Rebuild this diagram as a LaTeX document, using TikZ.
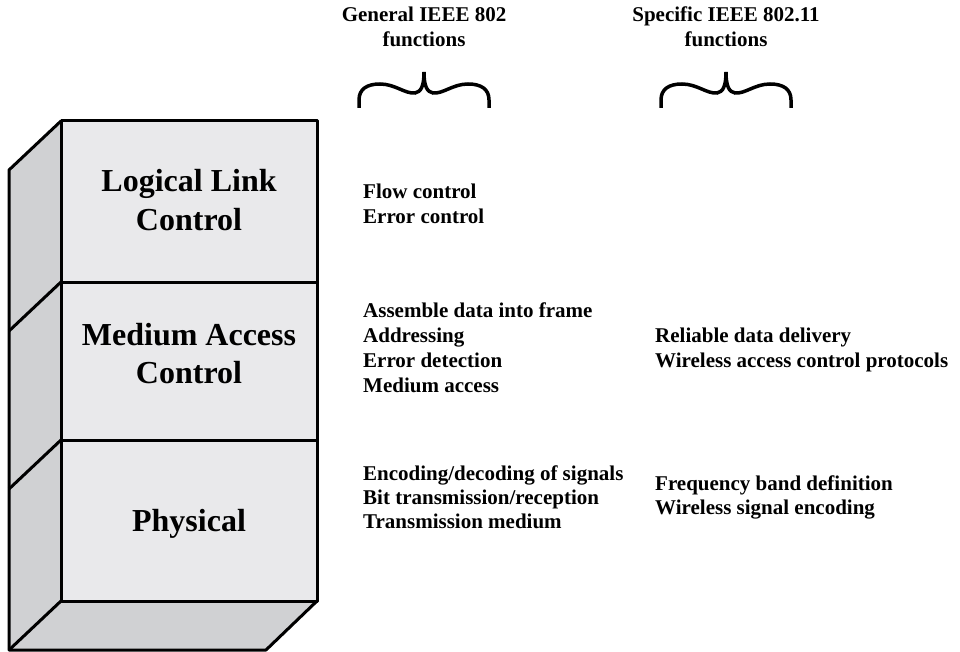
\documentclass[tikz,border=0pt]{standalone}
\usepackage{fontspec}
\setmainfont{Liberation Serif}
\definecolor{frontgray}{HTML}{E9E9EB}
\definecolor{sidegray}{HTML}{D0D1D3}
\begin{document}
\begin{tikzpicture}[x=1pt,y=-1pt,
  edge/.style={line width=3pt,line join=round},
  title/.style={anchor=base,inner sep=0pt,font=\fontsize{32}{38}\selectfont\bfseries},
  item/.style={anchor=base west,inner sep=0pt,font=\fontsize{21}{25}\selectfont\bfseries},
  head/.style={anchor=base,inner sep=0pt,font=\fontsize{21}{25}\selectfont\bfseries},
  bracepath/.style={line width=3.5pt,line cap=butt}]
\useasboundingbox (0,0) rectangle (960,652);
% faces
\fill[frontgray] (61,121) rectangle (317,601);
\fill[sidegray] (61,121) -- (9,170) -- (9,650) -- (61,601) -- cycle;
\fill[sidegray] (61,601) -- (317,601) -- (266,650) -- (9,650) -- cycle;
% edges
\draw[edge] (61,121) rectangle (317,601);
\draw[edge] (61,121) -- (9,170) -- (9,650) -- (266,650) -- (317,601);
\draw[edge] (61,601) -- (9,650);
\draw[edge] (61,282) -- (317,282);
\draw[edge] (61,440) -- (317,440);
\draw[edge] (61,282) -- (9,331);
\draw[edge] (61,440) -- (9,489);
% layer titles
\node[title] (llc1) at (189,192) {Logical Link};
\node[title] (llc2) at (189,230) {Control};
\node[title] (mac1) at (189,345) {Medium Access};
\node[title] (mac2) at (189,383) {Control};
\node[title] (phy) at (189,531) {Physical};
% headers
\node[head] (gen1) at (424,22) {General IEEE 802};
\node[head] (gen2) at (424,47) {functions};
\node[head] (spe1) at (726,22) {Specific IEEE 802.11};
\node[head] (spe2) at (726,47) {functions};
% braces
\foreach \dx/\nm in {0/gb,302/sb}{
  \begin{scope}[xshift=\dx]
  \draw[bracepath] (359,108) -- (359,100) .. controls (359,89) and (367,84) .. (380,84)
     .. controls (395,84) and (405,94) .. (415,93) .. controls (421,92) and (424,86) .. (424,72);
  \draw[bracepath] (489,108) -- (489,100) .. controls (489,89) and (481,84) .. (468,84)
     .. controls (453,84) and (443,94) .. (433,93) .. controls (427,92) and (424,86) .. (424,72);
  \end{scope}
}
% general functions
\node[item] (g1) at (363,199) {Flow control};
\node[item] (g2) at (363,224) {Error control};
\node[item] (g3) at (363,317) {Assemble data into frame};
\node[item] (g4) at (363,342) {Addressing};
\node[item] (g5) at (363,367) {Error detection};
\node[item] (g6) at (363,392) {Medium access};
\node[item] (g7) at (363,480) {Encoding/decoding of signals};
\node[item] (g8) at (363,504) {Bit transmission/reception};
\node[item] (g9) at (363,528) {Transmission medium};
% specific functions
\node[item] (s1) at (655,342) {Reliable data delivery};
\node[item] (s2) at (655,367) {Wireless access control protocols};
\node[item] (s3) at (655,490) {Frequency band definition};
\node[item] (s4) at (655,514) {Wireless signal encoding};
\end{tikzpicture}
\end{document}
